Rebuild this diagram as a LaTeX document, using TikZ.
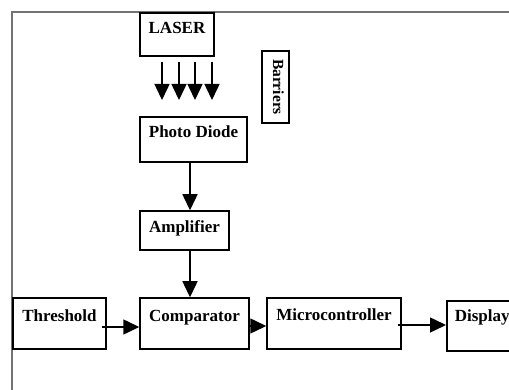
\documentclass[tikz,border=0pt]{standalone}
\usepackage{fontspec}
\setmainfont{Liberation Serif}
\usetikzlibrary{arrows.meta,calc}
\begin{document}
\begin{tikzpicture}[x=1pt,y=-1pt,
  box/.style={draw=black,line width=1.5pt,inner xsep=0pt,inner ysep=0pt,
    font=\fontsize{17}{20}\selectfont\bfseries},
  arr/.style={line width=1.5pt,-{Triangle[length=16pt,width=15pt]}},
  frame/.style={draw=black!55,line width=1.6pt}]
\useasboundingbox (0,0) rectangle (509,390);
\clip (0,0) rectangle (509,390);
% outer frame
\draw[frame] (12,392) -- (12,12) -- (511,12);

% blocks
\node[box,minimum width=74pt,text height=21pt,text depth=22pt] (laser) at (177,34.5) {LASER};
\node[box,minimum width=107pt,text height=21pt,text depth=24pt] (pd) at (193.5,139.5) {Photo Diode};
\node[box,minimum width=89pt,text height=22pt,text depth=17pt] (amp) at (184.5,230.5) {Amplifier};
\node[box,minimum width=93pt,text height=23pt,text depth=28pt] (thr) at (59.5,323.5) {Threshold};
\node[box,minimum width=109pt,text height=23pt,text depth=28pt] (comp) at (194.5,323.5) {Comparator};
\node[box,minimum width=134pt,text height=22pt,text depth=29pt] (mcu) at (334,323.5) {Microcontroller};
\node[box,anchor=west,inner xsep=8pt,text height=21pt,text depth=29pt] (disp) at (446,326) {Display};
\node[box,rotate=-90,minimum width=72pt,text height=16pt,text depth=11pt,
  font=\fontsize{15.5}{18}\selectfont\bfseries] (bar) at (275.5,87) {Barriers};

% laser beams
\coordinate (t1) at (162,100);
\coordinate (t2) at (179,100);
\coordinate (t3) at (195,100);
\coordinate (t4) at (212,100);
\foreach \i in {1,2,3,4}
  \draw[arr] (laser.south -| t\i) ++(0,5) -- (t\i);

% signal chain
\draw[arr] (pd.south -| 190,0) -- (amp.north -| 190,0);
\draw[arr] (amp.south -| 190,0) -- (comp.north -| 190,0);
\draw[arr] ($(thr.east)+(-5,0)$) ++(0,3.5) -- (comp.west |- 0,327);
\draw[arr] (comp.east |- 0,326) -- (mcu.west |- 0,326);
\draw[arr] ($(mcu.east)+(-4,0)$) ++(0,1.5) -- (disp.west |- 0,325);
\end{tikzpicture}
\end{document}
